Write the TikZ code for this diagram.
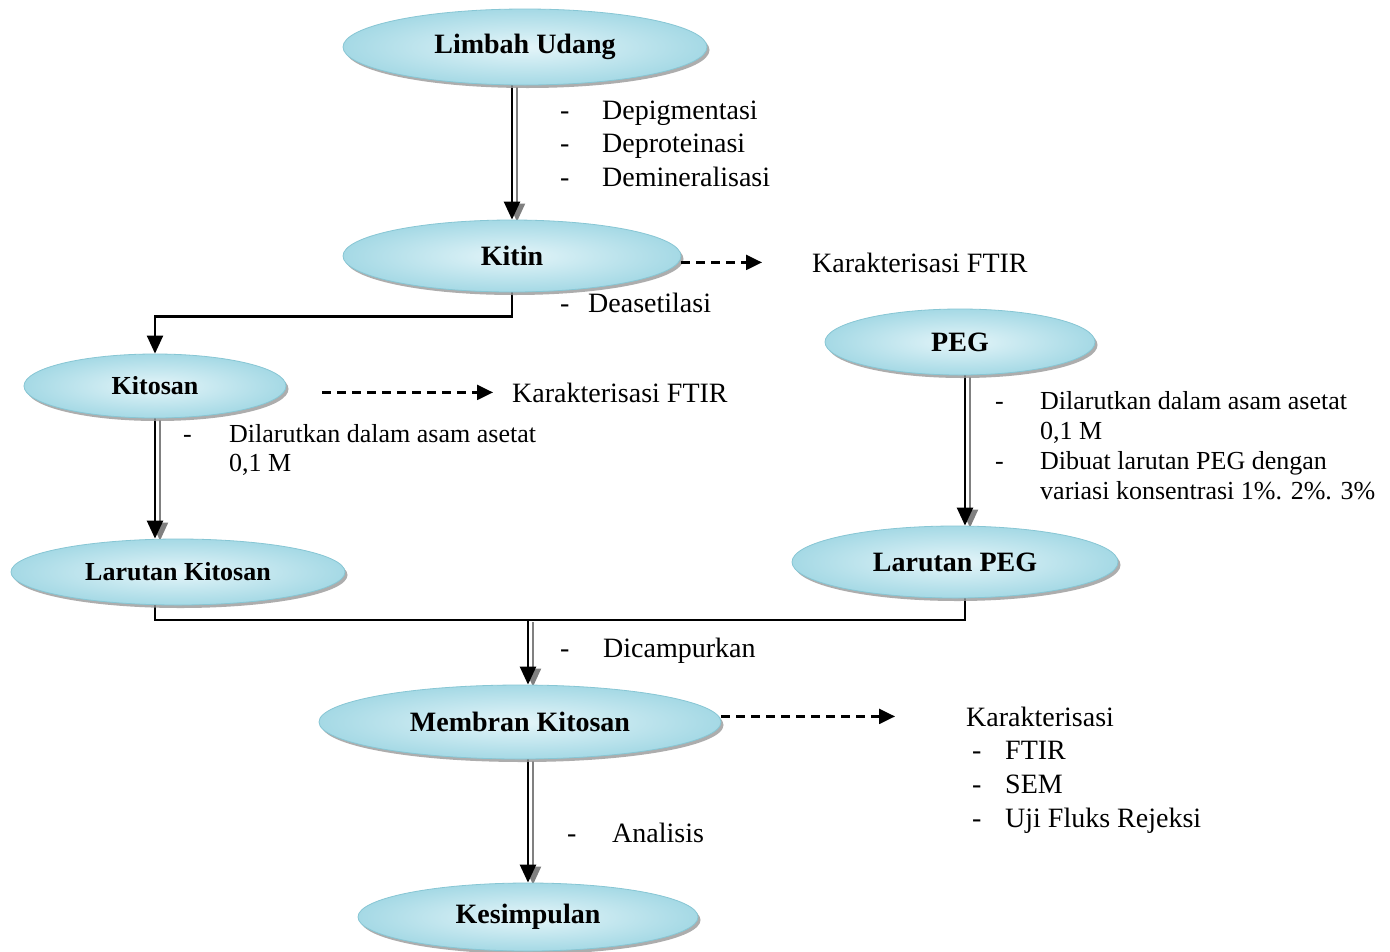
\documentclass[tikz,border=0pt]{standalone}
\usepackage{fontspec}
\setmainfont{Liberation Serif}
\usetikzlibrary{shapes.geometric,arrows.meta,shadows}
\pgfdeclarelayer{conn}
\pgfsetlayers{conn,main}
\begin{document}
\begin{tikzpicture}[x=1pt,y=-1pt,
  proc/.style={ellipse, inner sep=0pt,
    draw={rgb,255:red,135;green,198;blue,212}, line width=0.8pt,
    inner color={rgb,255:red,228;green,245;blue,249},
    outer color={rgb,255:red,165;green,217;blue,229},
    drop shadow={shadow xshift=2.5pt, shadow yshift=-3pt, fill=black!40, opacity=0.8},
    font=\fontsize{28}{30}\selectfont\bfseries},
  smallproc/.style={proc, font=\fontsize{26}{28}\selectfont\bfseries},
  lbl/.style={anchor=base west, inner sep=0pt, font=\fontsize{28}{30}\selectfont},
  slbl/.style={anchor=base west, inner sep=0pt, font=\fontsize{26}{28}\selectfont},
  dbl/.style={line width=2.4pt, draw=black, -{Triangle[length=18pt,width=16pt]}},
  dblsh/.style={line width=2pt, draw=black!50, -{Triangle[length=18pt,width=16pt]}, transform canvas={xshift=5pt,yshift=-2pt}},
  conn/.style={line width=2.2pt, draw=black},
  connarr/.style={conn, -{Triangle[length=18pt,width=16pt]}},
  dasharr/.style={line width=2.2pt, draw=black, dash pattern=on 9pt off 6pt, -{Triangle[length=16pt,width=15pt]}}
]
\useasboundingbox (0,0) rectangle (1390,951);
\begin{pgfonlayer}{conn}
\fill[white] (0,0) rectangle (1390,951);
\end{pgfonlayer}

% process ellipses
\node[proc, minimum width=364pt, minimum height=76pt] (limbah) at (525,47) {Limbah Udang};
\node[proc, minimum width=338pt, minimum height=72pt] (kitin) at (512,256) {Kitin};
\node[proc, minimum width=270pt, minimum height=66pt] (peg) at (960,342) {PEG};
\node[smallproc, minimum width=262pt, minimum height=64pt] (kitosan) at (155,386) {Kitosan};
\node[smallproc, minimum width=334pt, minimum height=66pt] (larkit) at (178,572) {Larutan Kitosan};
\node[proc, minimum width=326pt, minimum height=72pt] (larpeg) at (955,562) {Larutan PEG};
\node[proc, minimum width=402pt, minimum height=74pt] (membran) at (520,722) {Membran Kitosan};
\node[proc, minimum width=340pt, minimum height=68pt] (kesim) at (528,917) {Kesimpulan};

% labels
\node[lbl] (t1) at (560,119) {\makebox[42pt][l]{-}Depigmentasi};
\node[lbl] (t2) at (560,152) {\makebox[42pt][l]{-}Deproteinasi};
\node[lbl] (t3) at (560,186) {\makebox[42pt][l]{-}Demineralisasi};
\node[lbl] (ftir1) at (812,272) {Karakterisasi FTIR};
\node[lbl] (deas) at (560,312) {\makebox[28pt][l]{-}Deasetilasi};
\node[lbl] (ftir2) at (512,402) {Karakterisasi FTIR};
\node[slbl] (k1) at (183,442) {\makebox[46pt][l]{-}Dilarutkan dalam asam asetat};
\node[slbl] (k2) at (229,471) {0,1 M};
\node[slbl] (p1) at (995,409) {\makebox[45pt][l]{-}Dilarutkan dalam asam asetat};
\node[slbl] (p2) at (1040,439) {0,1 M};
\node[slbl] (p3) at (995,469) {\makebox[45pt][l]{-}Dibuat larutan PEG dengan};
\node[slbl] (p4) at (1040,499) {variasi konsentrasi 1\%. 2\%. 3\%};
\node[lbl] (camp) at (560,657) {\makebox[43pt][l]{-}Dicampurkan};
\node[lbl] (kar) at (966,726) {Karakterisasi};
\node[lbl] (kar1) at (972,759) {\makebox[33pt][l]{-}FTIR};
\node[lbl] (kar2) at (972,793) {\makebox[33pt][l]{-}SEM};
\node[lbl] (kar3) at (972,827) {\makebox[33pt][l]{-}Uji Fluks Rejeksi};
\node[lbl] (anal) at (567,842) {\makebox[45pt][l]{-}Analisis};

\coordinate (j) at (528,620);

\begin{pgfonlayer}{conn}
% Limbah -> Kitin
\draw[dblsh] (kitin.north |- limbah.south) -- (kitin.north);
\draw[dbl] (kitin.north |- limbah.south) -- (kitin.north);
% Kitin -> Kitosan
\draw[connarr] (kitin.south) -- ++(0,24) -| (kitosan.north);
% Kitosan -> Larutan Kitosan
\draw[dblsh] (kitosan.south) -- (kitosan.south |- larkit.north);
\draw[dbl] (kitosan.south) -- (kitosan.south |- larkit.north);
% PEG -> Larutan PEG
\draw[dblsh] ([xshift=5pt]peg.south) -- ([xshift=10pt]larpeg.north);
\draw[dbl] ([xshift=5pt]peg.south) -- ([xshift=10pt]larpeg.north);
% merge lines
\draw[conn] (kitosan.south |- larkit.south) |- ([xshift=10pt]larpeg.south |- j) -- ([xshift=10pt]larpeg.south);
% merge -> Membran
\draw[dblsh] (j) -- (j |- membran.north);
\draw[dbl] (j) -- (j |- membran.north);
% Membran -> Kesimpulan
\draw[dblsh] (j |- membran.south) -- (j |- kesim.north);
\draw[dbl] (j |- membran.south) -- (j |- kesim.north);
\end{pgfonlayer}

% dashed characterisation arrows
\draw[dasharr] (kitin.east |- ftir1.west) -- ([xshift=-50pt]ftir1.west);
\draw[dasharr] ([xshift=36pt]kitosan.east |- ftir2.west) -- ([xshift=-19pt]ftir2.west);
\draw[dasharr] (membran.east |- kar.west) -- ([xshift=-71pt]kar.west);
\end{tikzpicture}
\end{document}
